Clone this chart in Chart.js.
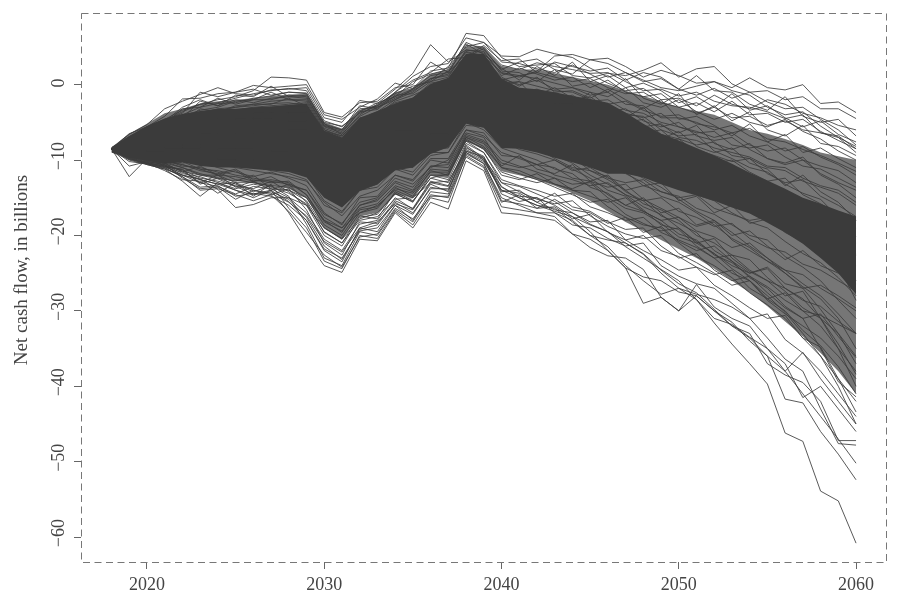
<!DOCTYPE html>
<html>
<head>
<meta charset="utf-8">
<style>
  body { margin: 0; background: #fff; }
</style>
<script src="https://cdn.jsdelivr.net/npm/chart.js@4"></script>
</head>
<body>
<canvas id="myChart" width="900" height="605"></canvas>
<script>
const years = [2018,2019,2020,2021,2022,2023,2024,2025,2026,2027,2028,2029,2030,2031,2032,2033,2034,2035,2036,2037,2038,2039,2040,2041,2042,2043,2044,2045,2046,2047,2048,2049,2050,2051,2052,2053,2054,2055,2056,2057,2058,2059,2060];
const xTickValues = [2020,2030,2040,2050,2060];
const yTickValues = [0,-10,-20,-30,-40,-50,-60];

// the solid part of the bundle, too many lines to tell apart
const coreTop = [-8.3,-6.8,-5.5,-4.5,-3.9,-3.5,-3.2,-3.2,-3,-2.9,-2.7,-2.5,-6.1,-7,-4.4,-3.5,-2.5,-1.7,0.1,0.9,4.1,4.1,0.8,-0.4,-0.6,-1,-1.5,-1.9,-2.4,-3.7,-5.2,-6.5,-7.4,-8.4,-9.4,-10.5,-11.7,-12.7,-13.8,-15,-15.8,-16.7,-17.5];
const coreBottom = [-9,-9.7,-10.1,-10.5,-10.3,-10.8,-11,-11,-11.2,-11.4,-11.6,-12.3,-15,-16.3,-14.1,-13.2,-11.4,-11,-9.2,-8.3,-5.2,-5.7,-8.4,-8.5,-9,-9.7,-10.3,-11,-11.8,-11.8,-12.3,-13.2,-14,-14.7,-15.4,-16.3,-17.1,-18.3,-19.6,-21.1,-23,-25,-27.8];
const shellTop = [-8.3,-6.5,-5.2,-3.8,-3.2,-2.5,-2.2,-2,-1.8,-1.5,-1.3,-1.2,-5,-5.8,-3.4,-2.6,-1,-0.4,1.4,2,5,5,2.5,2,2,1.5,1,0.5,0,-0.8,-1.5,-2.2,-3,-3.5,-4,-5,-6,-6.5,-7.2,-8,-9,-9.5,-10];
const shellBottom = [-9,-10,-10.6,-11,-11.4,-12,-12.4,-12.8,-13,-13.4,-13.8,-15,-19,-20.5,-17.5,-17,-14.6,-15,-12,-12.4,-7.5,-8.6,-11.5,-12,-12.6,-13.4,-14.4,-15.4,-16.8,-18.2,-19.4,-20.6,-21.8,-23,-24.4,-26,-27.6,-29.4,-31.4,-33.4,-35.6,-38,-41];

// upper edge of the bundle
const r01 = [-8.5,-6.5,-5.6,-4.6,-3.4,-2.6,-2,-1.6,-0.8,1,0.9,0.6,-3.7,-4.3,-2.4,-2.2,-0.4,0,3,1.6,5.2,5,2.6,2,2.9,2.4,2,1.5,1.6,0.4,-0.8,-0.6,-1.5,-1,-2.2,-2.8,-3,-3.6,-4.5,-4,-6.4,-6.8,-8.5];
const r02 = [-8.5,-6.6,-5.3,-3.2,-2.2,-1.3,-0.4,-1.2,-1.4,-0.7,-0.6,-0.4,-4.4,-5,-2.1,-2.5,-0.6,1.5,5.3,3,4.6,4.2,1.5,1,1.8,3.8,4,3.3,3.5,2.4,1,1.9,1.2,0.2,0.4,-0.8,-1.4,-3,-4,-3.6,-5.5,-7,-9];
const r03 = [-8.4,-6.9,-5.6,-4.2,-1.9,-1.8,-1.2,-1,-0.1,-0.4,-0.2,0,-4,-4.6,-3,-1.9,0.2,-0.5,1.8,2.2,6.8,6.5,3.6,2.4,2.6,2.8,1.2,0.9,1.5,1.2,1.9,2.9,1,2.1,2.4,0.1,-1,-2.3,-3.2,-3,-4.6,-6,-8];
const r04 = [-8.6,-7,-5.8,-4.8,-3.6,-2.6,-2.4,-1.8,-1.2,-0.8,-0.5,-0.8,-4.8,-5.6,-3.4,-2.8,-1,1.1,2.4,2.8,6.2,5.6,3.8,3.7,4.7,4.1,3.6,2.2,1,1.6,0.6,-0.4,-0.8,-0.2,0.4,-0.4,0.9,-0.4,-0.7,0,-2.5,-2.3,-3.7];
const r05 = [-8.5,-7.2,-5.9,-4.7,-3.8,-1,-1.6,-1,-0.6,-1.4,-1,-1.2,-5,-5.5,-3.8,-2.8,-1.6,-0.6,1.2,1.6,5.6,4.6,2,3,3.4,2,1.4,3.3,2.8,1.6,0.4,0.8,-0.6,-1.4,-0.5,-1.8,-1,-0.8,-2,-1.6,-3.2,-3.2,-4.5];
const r06 = [-8.4,-7,-6,-5,-4,-3,-2.5,-2.4,-1.8,-1.5,-1,-1.1,-5.2,-6,-3.2,-3,-1.8,-0.8,0.6,2.4,5,5.6,3,2.8,2.1,1.6,2.6,1.4,0.2,-0.8,-0.5,-2,-1.8,-2.8,-1.4,-2.6,-3.2,-2,-2.6,-3.8,-4.4,-5.4,-6];
const r07 = [-8.5,-7.3,-6.2,-5.2,-4.2,-3.4,-3,-2.2,-2,-2,-1.4,-1.6,-5.5,-6.2,-3.6,-3.3,-1.4,-1.2,0.4,1,4.6,4.4,1.2,2.2,1.4,0.6,1,-0.4,0.6,-1,-1.6,-1.2,-3,-2.4,-3.6,-2.2,-4,-3.8,-5,-4.6,-6.2,-7.4,-8.5];
const r08 = [-8.5,-7.4,-6.4,-5.4,-4.6,-3.8,-3.2,-3,-2.6,-2.2,-2,-2.2,-5.8,-6.6,-4.2,-3,-2,-0.6,0.8,1.2,4.3,3.6,0.6,1.2,0.8,0.2,-0.4,-1,-1.6,-0.4,-2.4,-3,-2,-3.6,-4.6,-3.8,-5,-5.6,-4.6,-6.2,-7.2,-8.8,-10];
const r09 = [-8.5,-7.6,-6.6,-5.6,-4.8,-4.2,-3.6,-3.4,-3,-2.8,-2.6,-2.4,-6,-7,-4.8,-3.8,-2.4,-1.8,0.2,0.6,3.8,3.2,0.2,0.4,-0.2,-0.8,-1,-2,-2.6,-2.2,-3.4,-4.2,-4,-5.2,-5.6,-6.4,-5.8,-7.2,-7.6,-8.6,-9.4,-10.4,-11.5];
const r10 = [-8.5,-7.8,-7,-6.2,-5.2,-4.6,-4,-3.8,-3.6,-3.2,-3,-3,-6.4,-7.4,-5,-4.2,-3,-2.4,-0.6,0,3,2.6,-0.4,-1,-0.6,-1.4,-2,-1.6,-3.2,-3.8,-4.4,-3.8,-5.6,-6.2,-7,-6.4,-8,-8.8,-8.4,-10,-10.8,-11.4,-13];
const r11 = [-8.5,-8,-7.2,-6.6,-6,-5.2,-5,-4.4,-4,-3.6,-3.4,-3.2,-6.6,-7.2,-5.2,-4.6,-3.2,-2,-1,0.4,3.4,2.8,0.4,-0.6,-1.2,-1.8,-1.4,-2.8,-3.6,-3.2,-4.8,-5.6,-5,-6.8,-7.4,-7,-8.6,-9.8,-10.6,-10,-11.8,-13,-14];
const r12 = [-8.5,-8.1,-7.4,-6.8,-6.2,-5.8,-5.4,-5,-4.8,-4.2,-4,-3.8,-7,-8,-5.6,-5,-3.6,-2.6,-1.4,-0.4,2.8,2,-0.8,-1.6,-0.8,-2.4,-3,-2.6,-4.4,-5,-4.6,-6.6,-7.2,-8,-7.6,-9.4,-9.8,-11,-11.4,-12.8,-13.6,-14.4,-16];
const r13 = [-8.5,-8.3,-7.8,-7.2,-6.6,-6.2,-6,-5.6,-5.2,-5,-4.6,-4.2,-7.6,-8.6,-6,-5.4,-4,-3.2,-1.8,-1,2,1.6,-1.4,-2.2,-2.8,-2,-3.6,-4.2,-3.8,-5.6,-6.4,-6,-8,-8.6,-9.4,-10.2,-9.8,-11.8,-13,-12.6,-14.8,-16,-17.5];
const r14 = [-8.5,-8.4,-8,-7.6,-7,-6.8,-6.4,-6.2,-6,-5.4,-5.2,-5,-8.2,-9,-6.8,-6,-4.6,-3.6,-2.2,-1.6,1.4,0.8,-2,-2.6,-2.2,-3.4,-4,-3.6,-5.4,-6.2,-6.8,-7.6,-7.2,-9,-10.4,-10,-11.6,-12.8,-12.4,-14.6,-15.8,-17.2,-19];
const n01 = [-8.5,-7.5,-6.5,-5.5,-4.5,-3.9,-3.5,-3,-2.8,-2.5,-2.4,-2.8,-6,-6.8,-4.6,-3.6,-2,-1,0.8,1.4,4.4,3.8,1.6,1.2,1.6,1,0.4,0.8,-0.4,-1.2,-1,-2.4,-3,-3.8,-3,-4.4,-4.2,-5.4,-4.8,-6,-6.4,-7,-8.2];
const n02 = [-8.5,-7.7,-6.8,-6,-5.2,-4.8,-4.2,-3.6,-3.4,-3.4,-3.2,-3.4,-6.8,-7.6,-5.4,-4.8,-2.8,-2.2,-0.2,0.2,3.2,3,0.8,0,0.6,-0.6,-0.4,-1.4,-1,-2.6,-2.8,-4.4,-4.4,-5,-6,-5.4,-6.8,-7.6,-8.8,-8.2,-9.6,-10.6,-12];
const n03 = [-8.5,-7.9,-7.2,-6.4,-5.6,-5,-4.6,-4.2,-3.8,-3.8,-3.6,-3.6,-7.2,-7.8,-5.8,-5.2,-3.4,-2.8,-0.8,-0.2,2.6,2.4,0.2,-1.2,-1.4,-0.4,-1.8,-2.2,-2,-3.4,-3.8,-5,-5.6,-6.4,-6.2,-8,-8.4,-8,-9.6,-10.8,-11.2,-12.4,-13.6];
const n04 = [-8.5,-8,-7.5,-7,-6.4,-5.6,-5.2,-4.8,-4.4,-4.4,-4.2,-4.4,-7.8,-8.4,-6.4,-5.8,-3.8,-3,-1.6,-0.8,1.8,1.2,-1,-1.8,-1.6,-2.6,-2.6,-3.6,-4.2,-4.4,-5.6,-5.2,-7,-7.4,-8.4,-9,-9.6,-10.8,-11,-12.4,-13.4,-14,-15.6];

// middle and lower part of the fan
const m01 = [-8.5,-8.8,-9,-9.2,-9.6,-9.4,-10,-10.2,-10.8,-11.4,-11.8,-12.6,-16,-17,-14,-13.6,-11.2,-12,-9.4,-9,-5.4,-5.6,-8,-8.2,-8.6,-7.8,-8.8,-9.4,-9,-10.2,-11,-10.6,-12.2,-13,-12.6,-14.2,-15,-16.2,-15.8,-17.6,-18.4,-19.8,-21];
const m02 = [-8.5,-9,-9.4,-9.8,-10.4,-10.2,-11,-11.6,-12.2,-11.6,-12.4,-13.4,-17,-18.6,-15,-14.8,-12,-12.8,-10,-10.4,-6,-6.8,-9,-9.8,-10.6,-10,-11.4,-11,-12.4,-13,-12.6,-14.2,-15,-14.6,-16.4,-17.2,-18,-17.6,-19.6,-20.8,-21.4,-23,-24];
const m03 = [-8.5,-9.2,-9.8,-10.2,-10.6,-11.4,-11.8,-11.2,-12.6,-13,-12.8,-14.6,-18,-19.6,-16,-15.4,-13,-14,-10.8,-11,-6.8,-7.6,-10.4,-11,-10.6,-12,-12.6,-13.4,-13,-14.6,-15.4,-15,-16.8,-17.6,-18.8,-18.4,-20.4,-21.6,-22.2,-23.8,-24.6,-26,-27.4];
const m04 = [-8.5,-9.3,-10,-10.4,-11,-11.8,-12.4,-12.8,-12,-13.8,-14,-15.4,-19,-20.4,-17,-16.4,-13.6,-14.8,-11.4,-12,-7.2,-8.6,-11.6,-12.4,-13,-12.4,-14,-14.8,-15.6,-15,-16.8,-18,-17.6,-19.4,-20.2,-21.6,-21,-23,-24.6,-25.2,-27,-28.4,-30];
const m05 = [-8.5,-9.5,-10.1,-10.7,-11.3,-12.4,-12.8,-13.4,-13.8,-12.8,-14.2,-16,-20,-21.4,-17.6,-17.2,-14.4,-15.6,-12,-12.6,-7.8,-9,-12.6,-13.4,-14,-14.8,-14.4,-16.2,-17,-18,-17.6,-19.6,-20.6,-21.6,-23,-22.6,-24.6,-26,-27,-28.6,-29.4,-31.4,-33];
const m06 = [-8.5,-9.1,-9.7,-10,-10.8,-11,-11.6,-12.6,-13,-13.4,-13.6,-15,-18.6,-20,-16.6,-16.2,-13.8,-14.4,-11.6,-11.6,-7,-8.2,-11,-11.8,-12.6,-13.6,-14.6,-15.6,-15.2,-17.2,-18.4,-19.4,-19,-21,-22.4,-24,-25,-24.4,-27,-28.4,-31,-33,-36];
const m07 = [-8.5,-9.6,-10.4,-11,-11.6,-12.6,-13.2,-13,-14,-14.6,-13.8,-16.6,-21,-22.6,-18.2,-18.4,-15.4,-16.4,-12.8,-13.4,-8.6,-9.8,-13,-14.2,-15.2,-15.8,-15.4,-17.4,-18.8,-19.8,-20.4,-20,-22.4,-23.6,-25,-26.6,-26,-28.6,-30.4,-32,-33.6,-36,-39];
const m08 = [-8.5,-9.8,-10.5,-11.1,-12.2,-13.6,-13.4,-14.8,-14.4,-14.8,-16,-18,-21.8,-23,-19.4,-19,-16,-17.2,-13.6,-14,-9,-10.2,-14,-14.4,-15.6,-16.6,-17,-18.2,-18,-20.6,-22,-23.2,-24.6,-24.2,-26.6,-28,-29.6,-31,-30.6,-33.6,-36,-39,-42];
const m09 = [-8.5,-10.8,-10.2,-10.6,-12.4,-13.8,-13.6,-15.2,-14,-14.4,-15.6,-17.4,-20.8,-22.2,-19,-18.2,-15.8,-16.6,-13.2,-14.2,-8.2,-10,-13.6,-14.8,-15,-17,-18.6,-19,-20.4,-21.4,-21,-24,-25.4,-26.4,-27,-29,-31,-30.4,-33.8,-35.6,-38,-41,-44];
const m10 = [-8.5,-9,-9.6,-10.2,-10.2,-11.2,-11.4,-12,-12.4,-12.8,-13.2,-14,-17.6,-19,-16,-15.2,-12.8,-13.6,-10.8,-10.6,-6.6,-7.4,-10,-10.8,-11.6,-12.4,-13.2,-13,-15,-16.4,-17,-18.4,-20.2,-21,-20.4,-23,-24.8,-26,-28,-27.4,-31,-35,-40];
const m11 = [-8.5,-8.9,-9.3,-9.6,-10,-10.4,-10.6,-11,-11.4,-11.8,-12.2,-12.8,-15.6,-17.4,-14.8,-14,-12,-12.6,-9.8,-9.8,-6,-6.4,-9.4,-9.6,-10.6,-11,-12.4,-12.8,-13.6,-13.2,-15.2,-16.4,-17.6,-18.8,-18.2,-20.6,-22,-23.4,-25,-26.8,-28.4,-31,-35];
const m12 = [-8.5,-8.6,-8.8,-8.8,-9,-9.2,-9.4,-9.6,-9.4,-9.8,-10,-10.4,-13.6,-15,-12.4,-11.8,-9.8,-10,-8,-7.6,-4,-4.6,-6.6,-7,-7.8,-8.6,-9.2,-10.4,-11,-11.6,-13.4,-14.2,-14.8,-16.4,-17.2,-18.6,-20,-20.6,-22.8,-24.2,-26,-28.6,-31];
const m13 = [-8.5,-8.3,-8.1,-7.8,-7.6,-7.4,-7.2,-7.6,-7.8,-7.4,-7.6,-8,-10.6,-12,-9.8,-9.2,-7.4,-7,-5,-4.6,-1,-1.8,-4,-4.4,-5.4,-5.8,-7,-7.6,-9,-9.8,-11,-11.6,-13.4,-14.6,-15.4,-17,-18.2,-19,-20.8,-22.4,-23.6,-25.6,-28];
const m14 = [-8.5,-8.2,-7.9,-7.6,-7.2,-7,-6.8,-7,-6.8,-6.6,-6.8,-7,-9.8,-11,-8.8,-8,-6.2,-6.2,-4.2,-3.6,-0.4,-0.6,-3.4,-4.6,-5,-6.4,-7.6,-8.8,-10,-11.2,-12.4,-13.6,-15.2,-16.8,-18,-19.6,-21.4,-23,-25,-27,-29.8,-33,-37];
const m15 = [-8.5,-8.4,-8.3,-8.2,-8,-8,-8.2,-8,-8.2,-8.4,-8.2,-8.6,-11.6,-12.6,-10.4,-9.8,-8,-7.6,-5.6,-5.2,-1.6,-2.2,-5,-5.6,-6.6,-7.2,-8.4,-9.6,-11,-11.8,-13,-14.8,-15.6,-17,-18.6,-20.4,-21.6,-23.4,-24.6,-26.4,-28,-30.4,-33];
const m16 = [-8.5,-8.6,-8.7,-8.6,-8.8,-8.6,-8.8,-9,-9.2,-9,-9.2,-9.6,-12.6,-14,-11.6,-10.8,-9,-8.8,-6.6,-6.6,-2.8,-3.4,-6,-7,-8,-9.4,-10.4,-12,-13.2,-14.6,-16.2,-17.2,-19,-20.8,-22.4,-24.4,-26,-28,-30.2,-33,-36,-40,-45];
const m17 = [-8.5,-8.7,-9,-9,-9.4,-9.6,-9.8,-9.8,-10.2,-10.4,-10.8,-11.2,-14.6,-16,-13.2,-12.6,-10.6,-11,-8.6,-8.4,-4.6,-5.2,-7.4,-8.6,-9.2,-10,-11.2,-12.4,-14,-14.8,-16.6,-18.6,-19.2,-21.4,-23,-25,-26,-28.4,-30,-32.6,-34.6,-37.4,-41];
const m18 = [-8.5,-8.8,-9.2,-9.4,-9.8,-10,-10.4,-10.6,-11,-11,-11.4,-12,-15.4,-16.8,-14,-13.2,-11,-11.6,-9,-9,-5,-6,-8.4,-9.2,-10,-11.2,-11.8,-13.6,-14.4,-16,-16.8,-18,-19.8,-20.6,-22.6,-23.6,-25.4,-26.8,-28.6,-30,-32,-35,-38];

// more crossing lines through the fan
const p01 = [-8.5,-7,-5.9,-4.9,-3,-2,-2.8,-1.4,-1.6,-0.2,-1.6,-1.8,-5.4,-6,-2.8,-3.2,-1,0.6,1.6,3.4,3.6,5.2,3.2,3.4,1.6,3,2.4,1.8,2.2,0.6,1.6,1,-0.6,1.2,-0.8,-1,-2.6,-3.4,-1.6,-4.2,-5,-4.6,-6.8];
const p02 = [-8.5,-7.2,-6.2,-5.2,-3.2,-3,-1.8,-2.6,-2,-1,-2,-2,-5.6,-6.4,-3.6,-2.4,-1.6,0.4,1.4,2,5.4,4,2.2,0.6,2.4,1.2,3,0.4,1.2,-0.4,0.2,-0.8,-2.4,-1.6,-3,-1.2,-3.4,-2.8,-4.4,-5.6,-4.8,-6.6,-7.6];
const p03 = [-8.5,-7.4,-6.3,-5.4,-4.4,-2.2,-2.8,-2,-2.4,-1.8,-1.6,-1.4,-5.2,-6.6,-4,-2.6,-1.2,-0.2,0.4,1.8,3.6,4.8,1.8,1.6,0.4,2,-0.2,0.2,-1,0.8,-1.8,-2.6,-1.2,-4,-2.8,-4.8,-3.6,-6,-6.8,-5.4,-7.8,-8.2,-9.4];
const p04 = [-8.5,-7.6,-6.8,-5.8,-5,-3.2,-3.6,-2.8,-2.6,-2.6,-1.8,-2.8,-6.2,-6.8,-4.4,-4,-2.2,-1.4,-0.4,0.8,3,3.4,1,-0.2,1,-1,-0.8,-1.8,-0.6,-2,-3.2,-2,-4.6,-4.2,-5.4,-6.8,-5.2,-7.6,-6.6,-9,-8.4,-9.8,-11];
const p05 = [-8.5,-8,-7,-6.2,-5.6,-4.4,-4.4,-3.6,-3.4,-3,-2.8,-3.2,-6.6,-7.6,-5.2,-4.4,-2.6,-2,-0.4,-0.4,2.2,2.6,-0.2,0.4,-2,-1.2,-2.8,-1,-3,-4.4,-3,-5.4,-6.4,-5.4,-7.8,-8.6,-7.8,-9.8,-10.4,-9.6,-12,-13.2,-15];
const p06 = [-8.5,-8.2,-7.6,-7,-6.4,-5.4,-5.6,-4.6,-4.6,-4.6,-4.4,-4.6,-8,-8.8,-6.2,-5.6,-4.2,-2.8,-2,-1.4,1,1.8,-1.8,-1.2,-3.2,-2.8,-2.2,-4.6,-3.2,-5,-6,-7.2,-6.2,-8.2,-9,-8.4,-10.4,-11.2,-13.4,-12,-14.2,-15.6,-18];
const p07 = [-8.5,-9.3,-9.8,-10.4,-11.6,-10.8,-12,-11.4,-12.8,-12.2,-13.4,-14,-17.2,-18.4,-15.6,-15,-12.4,-13.2,-11,-10,-6.4,-7,-10.8,-9.4,-11.2,-11.8,-10.6,-12.8,-12,-14,-13.4,-13,-15.4,-14.8,-17,-16,-18.4,-17.8,-19,-19.4,-20.6,-20.8,-22.4];
const p08 = [-8.5,-9.7,-10.6,-11.2,-12,-13,-12,-13.6,-12.8,-14,-13.2,-15.6,-19.6,-21,-17.4,-17.8,-14.2,-15.4,-12.4,-11.8,-7.4,-8.4,-12,-12.6,-11.8,-13.2,-13.8,-12.8,-14.6,-16,-15,-17,-16.4,-18.6,-18,-20,-19.4,-21.4,-23.2,-22,-24,-25,-26.4];
const p09 = [-8.5,-9.9,-10.4,-11.4,-12.6,-12.8,-14.4,-13,-14.8,-13.2,-16.4,-19,-23.4,-24.4,-20,-20.4,-16.8,-18.6,-15,-15.6,-9.4,-10.8,-15.6,-14.6,-16.4,-15.2,-16.6,-17,-18.4,-17.6,-19.6,-18.8,-20.8,-22,-21.4,-23.4,-25,-24.2,-26.4,-27,-26.6,-28,-29.6];
const p10 = [-8.5,-10.2,-10.5,-11,-12.2,-14,-13.8,-14.6,-15.4,-14.6,-16.8,-19.6,-22.6,-24.2,-20.2,-19.8,-16.4,-17.8,-14.8,-14.8,-9.2,-10.4,-15.4,-15.8,-16.4,-16.2,-17.8,-17.2,-19.6,-20.6,-20,-22,-22.8,-24.2,-25.2,-24.6,-27,-28.4,-27.6,-30,-30.6,-31.8,-33];
const p11 = [-8.5,-9.5,-10.3,-10.8,-12,-12.6,-13.2,-14,-14.6,-14.2,-15.2,-17.6,-21.4,-23.2,-19.2,-18.6,-15.6,-17,-13.8,-13.8,-8.8,-10,-14.2,-14,-15.6,-14.4,-16.2,-16.8,-18.2,-19.2,-19,-21.4,-23,-22.4,-24.6,-26,-25.4,-27.6,-29.6,-31,-30.4,-33.4,-36.2];
const p12 = [-8.5,-9,-9.5,-10,-10.6,-11.2,-12,-12.2,-12.8,-12.6,-13,-14.6,-18.2,-19.4,-16.4,-15.8,-13.4,-14.2,-11.2,-11.4,-7,-7.8,-11,-11.4,-12.4,-13.2,-14,-14.2,-16.2,-17.6,-18.6,-19,-21,-22.8,-24,-25.6,-27.6,-29.2,-31,-33.6,-34.8,-39,-43.4];
const p13 = [-8.5,-8.7,-8.9,-9.1,-9.2,-9.4,-9.6,-10,-10,-10.2,-10.4,-11,-14.2,-15.6,-12.8,-12.2,-10.2,-10.4,-8.2,-8,-4.4,-4.8,-7,-7.8,-8.4,-9.8,-11,-11.4,-12.6,-14,-15.8,-16.6,-18,-20,-21,-22.6,-23.2,-25.6,-27.4,-29.6,-31,-34.4,-38.4];
const p14 = [-8.5,-8.5,-8.6,-8.4,-8.4,-8.4,-8.6,-8.6,-8.6,-8.8,-8.8,-9.2,-12,-13.4,-11,-10.4,-8.6,-8.2,-6.2,-6,-2.2,-2.8,-5.4,-6.2,-7.2,-8.8,-9.6,-11.4,-12.2,-14.2,-15.4,-17.4,-18.4,-19.6,-22,-23.4,-25.6,-27,-29.4,-31,-35,-39.4,-41.4];
const p15 = [-8.5,-8.1,-7.6,-7.4,-7,-6.6,-6.6,-6.4,-6.4,-6.2,-6,-6,-9,-10,-7.8,-7,-5.4,-5,-3,-2.6,0.6,0.2,-2.8,-3.4,-3.8,-5,-4.6,-6.8,-7.4,-8.4,-9.2,-10.8,-11.6,-13.2,-13,-15.4,-16.2,-17.8,-18.4,-20.6,-21.2,-23.6,-26];
const p16 = [-8.5,-8.2,-7.7,-7.3,-6.8,-6.4,-6.2,-5.8,-5.6,-5.8,-5.6,-5.4,-8.6,-9.6,-7.4,-6.6,-5,-4.2,-2.6,-2,1,0.6,-2.4,-3,-3.4,-4.2,-5.2,-5,-6.8,-7.2,-8.6,-8.2,-10,-10.8,-12,-11.4,-13.6,-14.6,-15.4,-17,-18.6,-20,-22.6];
const p17 = [-8.5,-8,-7.4,-6.9,-6.6,-6,-5.8,-5.2,-5.4,-5,-4.8,-4.8,-8,-9,-6.6,-6.2,-4.4,-3.4,-2.4,-1.2,1.6,1.2,-1.6,-2,-1.8,-3,-3.2,-4,-5,-5.8,-7.4,-8.8,-8.6,-10.6,-11.8,-13,-13.6,-15.4,-17,-18,-20.4,-24,-28.6];
const p18 = [-8.5,-7.9,-7,-6.4,-5.8,-5,-4.8,-4,-3.6,-3.8,-3.8,-3.8,-7.2,-8.2,-5.6,-5.2,-3.2,-2.4,-1.2,-0.6,2.4,2.2,0.4,-0.8,-1,-2,-1.6,-3.2,-2.8,-4,-4.2,-6,-6.8,-6.6,-8.8,-9.8,-11,-11.6,-13.2,-14.4,-15.2,-17.6,-20.2];

// lowest lines
const l01 = [-8.5,-9.5,-10,-10.2,-11,-12,-12,-13,-13,-13.5,-14,-15,-18,-19,-17,-16,-14,-15,-12,-12,-7.5,-9,-13,-13.5,-14.5,-15.5,-17,-18.5,-19.5,-21.5,-23,-24.5,-26,-28.5,-31.6,-34.4,-37,-39.7,-46.2,-47.3,-53.9,-55.2,-60.8];
const l02 = [-8.5,-12.2,-9.8,-10.8,-11.4,-13,-13.5,-14.5,-13.5,-13.8,-15,-17,-20.5,-22,-18.5,-18,-15,-16.5,-13,-13.5,-8,-9.8,-14,-15,-16,-16.4,-18.2,-20,-20.6,-21,-22.4,-24.6,-26.4,-27.6,-29.8,-32,-33.6,-36,-41.7,-42.2,-46,-49,-52.4];
const l03 = [-8.5,-10,-10.6,-11.2,-12.8,-14.8,-13,-14,-15,-14,-15.5,-18,-22,-23.5,-19,-19.5,-16,-18,-14.2,-14.5,-9,-10.5,-15,-16,-17,-17.5,-19.8,-20.5,-22,-24.3,-25.5,-26,-27.5,-28,-30,-31.5,-34,-36,-38,-41,-44,-47,-50.2];
const l04 = [-8.5,-9.8,-10.4,-10.8,-12,-12.5,-13.9,-16.3,-15.9,-15,-15,-16,-19,-20.5,-17.8,-17,-14.5,-15.5,-12.4,-13,-8.4,-9.5,-14.5,-15.5,-15,-16,-17.5,-18.6,-19.5,-21,-22.5,-25,-27,-27.8,-28.5,-29.5,-31,-33.6,-36.4,-38,-43,-47.6,-47.8];
const l05 = [-8.5,-9.6,-10,-10.5,-11.5,-12,-12.5,-13.5,-14.5,-14,-17,-20.7,-24,-24.9,-20.5,-20.7,-17,-19,-15.6,-16.5,-10.1,-11.4,-17,-17.2,-17.6,-18,-19.8,-21.6,-22.7,-23,-24.5,-28.2,-30,-28,-30,-32,-33,-37,-38.5,-39.5,-42,-47.2,-47.2];
const l06 = [-8.5,-9.4,-10.2,-10.6,-11.8,-12.2,-13,-13.8,-13.2,-13.6,-14.4,-15.8,-19.5,-21,-18,-17.5,-15.2,-15,-13,-12.8,-8.8,-9.6,-13.5,-15,-16,-16.8,-17.5,-19.5,-22,-24.3,-29,-28.2,-30,-26.5,-29.5,-31,-32,-35,-38,-35.5,-39,-42,-45];
const l07 = [-8.5,-9.7,-10.3,-10.9,-11.2,-13.2,-12.4,-13.2,-14.2,-13.4,-14.8,-18.5,-23,-24,-19.5,-20,-16.6,-18.2,-14.6,-15,-9.6,-11,-16.2,-16.6,-17,-17,-18,-20,-21.5,-24,-26,-27.8,-27,-28.5,-31,-31.8,-33.5,-35,-37,-41.5,-40,-43,-46];

const runs = [r01,r02,r03,r04,r05,r06,r07,r08,r09,r10,r11,r12,r13,r14,n01,n02,n03,n04,
  m01,m02,m03,m04,m05,m06,m07,m08,m09,m10,m11,m12,m13,m14,m15,m16,m17,m18,
  p01,p02,p03,p04,p05,p06,p07,p08,p09,p10,p11,p12,p13,p14,p15,p16,p17,p18,
  l01,l02,l03,l04,l05,l06,l07];

const inkColor = "#3b3b3b";
const fontName = '"Liberation Serif", serif';

function toPoints(values) {
  return values.map((v, i) => ({ x: years[i], y: v }));
}

const datasets = runs.map((run) => ({
  data: toPoints(run),
  borderColor: "rgba(60, 60, 60, 0.85)",
  borderWidth: 1,
  pointRadius: 0,
  fill: false,
  tension: 0,
}));

function addBand(top, bottom, color) {
  datasets.push({ data: toPoints(top), borderWidth: 0, pointRadius: 0, backgroundColor: color, fill: "+1" });
  datasets.push({ data: toPoints(bottom), borderWidth: 0, pointRadius: 0, fill: false });
}
addBand(coreTop, coreBottom, inkColor);
addBand(shellTop, shellBottom, "rgba(60, 60, 60, 0.7)");

function noMargins(scale) {
  scale.paddingTop = 0;
  scale.paddingBottom = 0;
  scale.paddingLeft = 0;
  scale.paddingRight = 0;
}

// dashed box round the plot and the rotated axis title
const framePlugin = {
  id: "frame",
  afterDraw(chart) {
    const { ctx, chartArea: a } = chart;
    ctx.save();
    ctx.strokeStyle = "#777";
    ctx.lineWidth = 1;
    ctx.setLineDash([7, 4.5]);
    ctx.strokeRect(a.left + 0.5, a.top + 0.5, a.right - a.left, a.bottom - a.top);
    ctx.restore();

    ctx.save();
    ctx.translate(22, 270);
    ctx.rotate(-Math.PI / 2);
    ctx.font = "19px " + fontName;
    ctx.fillStyle = "#444";
    ctx.textAlign = "center";
    ctx.textBaseline = "middle";
    ctx.fillText("Net cash flow, in billions", 0, 0);
    ctx.restore();
  },
};

const ctx = document.getElementById("myChart");
const myChart = new Chart(ctx, {
  type: "line",
  data: { datasets: datasets },
  plugins: [framePlugin],
  options: {
    responsive: false,
    animation: false,
    layout: { autoPadding: false, padding: { top: 13, right: 14, left: 0, bottom: 0 } },
    plugins: { legend: { display: false }, tooltip: { enabled: false } },
    scales: {
      x: {
        type: "linear",
        min: 2016.28,
        max: 2061.69,
        afterFit: (scale) => { scale.height = 43; noMargins(scale); },
        afterBuildTicks: (scale) => { scale.ticks = xTickValues.map((v) => ({ value: v })); },
        border: { display: false },
        grid: { drawOnChartArea: false, tickLength: 7, color: "#666" },
        ticks: {
          autoSkip: false,
          maxRotation: 0,
          padding: 5,
          color: "#444",
          font: { family: fontName, size: 18 },
          callback: (v) => String(v),
        },
      },
      y: {
        min: -63.3,
        max: 9.5,
        afterFit: (scale) => { scale.width = 81; noMargins(scale); },
        afterBuildTicks: (scale) => { scale.ticks = yTickValues.map((v) => ({ value: v })); },
        border: { display: false },
        grid: { drawOnChartArea: false, tickLength: 7, color: "#666" },
        ticks: {
          autoSkip: false,
          minRotation: 90,
          maxRotation: 90,
          crossAlign: "center",
          padding: 1,
          labelOffset: -4,
          color: "#444",
          font: { family: fontName, size: 18 },
          callback: (v) => (v === 0 ? "0\u00A0" : String(v).replace("-", "\u2212")),
        },
      },
    },
  },
});
</script>
</body>
</html>
